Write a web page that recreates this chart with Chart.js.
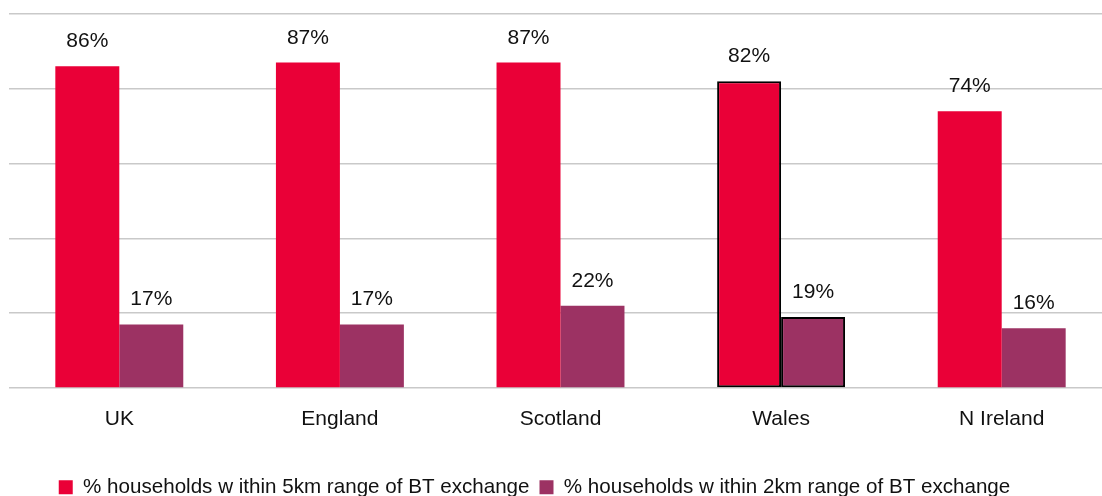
<!DOCTYPE html>
<html>
<head>
<meta charset="utf-8">
<script src="https://cdn.jsdelivr.net/npm/chart.js@4/dist/chart.umd.min.js"></script>
<style>
  html, body { margin: 0; padding: 0; background: #fff; }
  #clip { width: 1102px; height: 496px; overflow: hidden; }
  #wrap { width: 1112px; height: 496px; position: relative; }
</style>
</head>
<body>
<div id="clip"><div id="wrap"><canvas id="chart"></canvas></div></div>
<script>
const nations = ['UK', 'England', 'Scotland', 'Wales', 'N Ireland'];
const within5km = [86, 87, 87, 82, 74];
const within2km = [17, 17, 22, 19, 16];
const seriesNames = [
    '% households w ithin 5km range of BT exchange',
    '% households w ithin 2km range of BT exchange'
];
const gridSteps = [0, 20, 40, 60, 80, 100];

const RED = '#EA0037';
const PLUM = '#9C3263';
const FONT = '"Liberation Sans", Arial, sans-serif';
const FONT_SIZE = 21;
const LEGEND_SIZE = 20.6;

// Wales gets an outline on both bars
const outline = nations.map(n => n === 'Wales' ? 2 : 0);

// draws the "NN%" value above each bar
const valueLabels = {
    id: 'valueLabels',
    afterDatasetsDraw(chart) {
        const ctx = chart.ctx;
        ctx.save();
        ctx.font = FONT_SIZE + 'px ' + FONT;
        ctx.fillStyle = '#111';
        ctx.textAlign = 'center';
        ctx.textBaseline = 'alphabetic';
        chart.data.datasets.forEach((ds, i) => {
            chart.getDatasetMeta(i).data.forEach((bar, j) => {
                ctx.fillText(ds.data[j] + '%', bar.x, bar.y - 19);
            });
        });
        ctx.restore();
    }
};

// legend sits a little left of centre
const legendNudge = {
    id: 'legendNudge',
    afterLayout(chart) {
        chart.legend.left -= 26;
        chart.legend.right -= 26;
    }
};

const chart = new Chart(document.getElementById('chart'), {
    type: 'bar',
    data: {
        labels: nations,
        datasets: [
            {
                label: seriesNames[0],
                data: within5km,
                backgroundColor: RED,
                borderColor: '#000',
                borderWidth: outline,
                borderSkipped: false
            },
            {
                label: seriesNames[1],
                data: within2km,
                backgroundColor: PLUM,
                borderColor: '#000',
                borderWidth: outline,
                borderSkipped: false
            }
        ]
    },
    options: {
        responsive: true,
        maintainAspectRatio: false,
        animation: false,
        layout: { padding: { left: 9, right: 0, top: 14, bottom: -11.6 } },
        datasets: {
            bar: { categoryPercentage: 0.58, barPercentage: 1 }
        },
        scales: {
            x: {
                grid: { display: false },
                border: { display: false },
                ticks: { color: '#111', font: { family: FONT, size: FONT_SIZE }, padding: 11 },
                afterFit: s => { s.height = 79; }
            },
            y: {
                min: 0,
                max: 100,
                afterBuildTicks: s => { s.ticks = gridSteps.map(v => ({ value: v })); },
                ticks: { display: false },
                grid: { color: '#c9c9c9', lineWidth: 1.5, drawTicks: false },
                border: { display: false },
                afterFit: s => { s.width = 0; }
            }
        },
        plugins: {
            legend: {
                position: 'bottom',
                labels: {
                    color: '#111',
                    font: { family: FONT, size: LEGEND_SIZE },
                    boxWidth: 14,
                    boxHeight: 14,
                    padding: 10
                }
            },
            tooltip: { enabled: false }
        }
    },
    plugins: [valueLabels, legendNudge]
});
</script>
</body>
</html>
